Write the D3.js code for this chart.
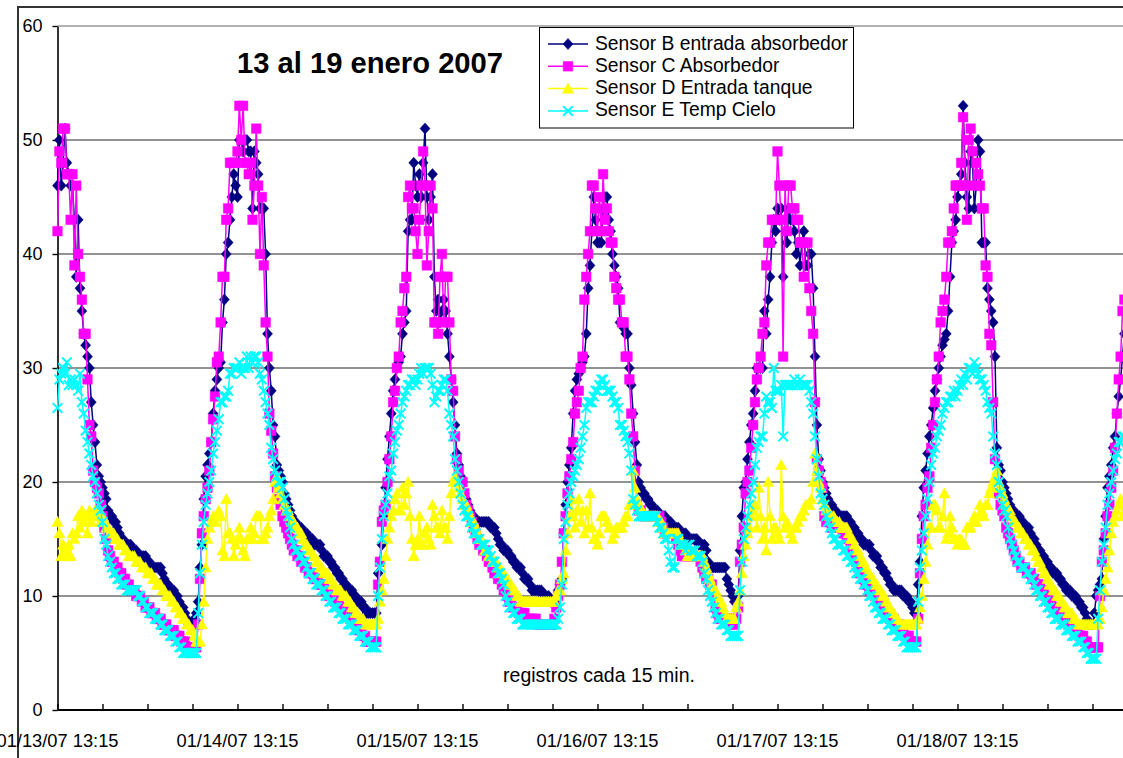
<!DOCTYPE html>
<html><head><meta charset="utf-8">
<script src="https://cdn.jsdelivr.net/npm/d3@7"></script>
<style>body{margin:0;background:#fff;} svg{display:block;} text{font-family:"Liberation Sans",Arial,Helvetica,sans-serif;}</style>
</head><body><svg id="c" width="1123" height="758"></svg>
<script>
// ---- data (registros cada 15 min, desde 01/13/07 13:15) ----
const sensorB = [46,50,46,48,51,48,47,46,46,43,
38,43,37,35,33,32,31,30,27,25,
23.5,21.5,20.5,20,19.5,19,18.5,17.5,17,17,
16.5,16.5,16,15.5,15,15,14.5,14.5,14.5,14.5,
14,14,14,13.5,13.5,13.5,13.5,13.5,13,13,
12.5,12.5,12.5,12.5,12.5,12.5,12,11.5,11,11,
10.5,10.5,10.5,10,10,9.5,9,9,8.5,8,
7.5,7.5,7.5,8,8.5,9.5,12.5,14.5,18.5,20.5,
21.5,22.5,23.5,26,28,29,30,30.5,34,36,
40,41,43,45,47,46,45,50,50,49,
50,50,49,49,44,49,48,47,44,44,
44,40,33,30,28,25,24,21.5,21,20.5,
20,19,18.5,18,17.5,17,16.5,16.5,16,16,
16,15.5,15.5,15.5,15,15,15,14.5,14.5,14.5,
14.5,14,13.5,13.5,13.5,13,13,12.5,12.5,12,
12,11.5,11.5,11,11,10.5,10.5,10.5,10,10,
9.5,9.5,9.5,9,9,8.5,8.5,8.5,8.5,8.5,
8.5,12,13,14.5,17,19.5,22,24,26,28,
29,30,30.5,31,33,34,35,42,43,43,
48,46,45,47,45,48,51,45,43,45,
47,38,35,36,34,35,36,35,33,31,
29,27,25,22.5,21.5,20.5,20,19,18.5,18,
17.5,17,17,16.5,16.5,16.5,16.5,16.5,16.5,16.5,
16.5,16,16,16,15.5,15,14.5,14.5,14,14,
14,13.5,13.5,13,13,12.5,12.5,12.5,12,11.5,
11.5,11.5,11,10.5,10.5,10.5,10.5,10.5,10.5,10,
10,10,10,9.5,9.5,9.5,10,10.5,11,11.5,
15.5,18,20,21.5,23,26,28,29,29.5,30,
30.5,31,33,37,39,42,45,43,41,41,
41,44,45,45,43,42,40,39,38,37,
34,34,33.5,33,33,30,28.5,26,23.5,21.5,
20,19.5,19,19,18.5,18.5,18,18,17.5,17.5,
17.5,17,17,17,17,16.5,16.5,16.5,16,16,
16,16,15.5,15.5,15.5,15.5,15,15,15,15,
15,15,14.5,14.5,14.5,14.5,14,13,12.5,12.5,
12.5,12.5,12.5,12.5,12.5,12.5,12.5,11.5,11,10.5,
10,9.5,9.5,10,14,17,19.5,20,22,23.5,
25,26,28,30,30,30,30,35,33,36,
38,41,43,42,44,43,44,38,42,41,
44,43,43,42,40,41,39,41,42,39,
39,40,40,37,31,25,22,21,20,19.5,
19,18.5,18,18,17.5,17.5,17,17,17,17,
17,17,16.5,16.5,16,16,15.5,15.5,15,15,
14.5,14.5,14.5,14.5,14,13.5,13.5,13.5,13,12.5,
12.5,12,12,11.5,11,11,10.5,10.5,10.5,10.5,
10.5,10,10,10,9.5,9.5,9,8.5,8.5,11,
13,17,19.5,21,22.5,24,25,26.5,28,29,
30,31,32,32.5,33,35,38,41,42,43,
45,46,47,53,48,45,44,49,48,44,
46,50,49,41,41,41,37,36,35,34,
31,23,21.5,21,20,19.5,19,18.5,18,17.5,
17.5,17,17,17,16.5,16.5,16,16,16,15.5,
15,15,14.5,14,14,13.5,13.5,13,13,12.5,
12.5,12,12,12,11.5,11.5,11,11,10.5,10.5,
10.5,10,10,10,9.5,9.5,9,9,8.5,8,
7.5,7.5,7.5,8.5,10,10.5,11,11.5,15,17,
19.5,20.5,21.5,23,24,26,27.5,29,31,33];

const sensorC = [42,49,48,51,51,47,47,43,47,39,
46,40,38,36,33,33,29,25,24,21,
20,19.5,19,18,17,16,15,14,13.5,13,
13,12.5,12.5,12,12,11.5,11.5,11,11,10.5,
10.5,10.5,10,10,10,9.5,9.5,9,9,9,
8.5,8.5,8.5,8,8,8,7.5,7.5,7.5,7,
7,7,7,6.5,6.5,6.5,6,6,6,5.5,
5.5,5.5,5.5,5.5,5.5,7.5,11.5,15.5,17,18.5,
19.5,21,23.5,25.5,27.5,30.5,31,34,38,38,
43,44,48,48,48,48,49,53,50,53,
48,48,47,48,43,46,51,46,40,45,
39,34,31,26,24.5,22.5,20.5,19.5,18.5,18,
17,16.5,16,15.5,15,14.5,14,14,13.5,13.5,
13,13,12.5,12.5,12,12,12,11.5,11.5,11.5,
11,11,11,10.5,10.5,10,10,10,9.5,9.5,
9.5,9,9,9,8.5,8.5,8,8,8,7.5,
7.5,7,7,6.5,6.5,6,6,6,6,6,
6,11,13,16.5,17.5,18,20,22,24,27,
28,30,31,34,35,37,38,45,46,44,
44,42,40,43,46,49,46,39,42,46,
44,34,34,33,38,40,34,38,38,34,
29,28,24,22,21,20,20,19,18,17.5,
17,16.5,16,15.5,15,14.5,14.5,14,14,13.5,
13,13,12.5,12,12,11.5,11.5,11,10.5,10.5,
10,9.5,9.5,9,9,9,8.5,8.5,8.5,8.5,
8,8,8,8,8,8,7.5,7.5,7.5,7.5,
7.5,7.5,7.5,7.5,7.5,8,9,10,11,13,
15.5,17,19,20.5,22,23.5,26,27,28,30,
31,36,38,40,42,46,46,44,42,45,
42,47,43,44,42,41,41,38,37,36,
36,34,34,31,31,29,26,24,21,18,
17.5,17.5,17,17,17,17,17,17,17,17,
17,17,16.5,16,15.5,15.5,15.5,15.5,15.5,15.5,
15,14.5,14,13.5,13.5,13.5,13.5,13.5,13.5,13.5,
13.5,13.5,13.5,13,12.5,12,11.5,11.5,11,11,
10,9,8.5,8,8,8,8,8,8,8,
7.5,7.5,8,9,13,14.5,16,19,20,21,
23,25,27,29,30,31,33,34,39,41,
41,43,43,43,49,46,43,31,46,42,
46,46,44,44,43,43,41,41,38,41,
41,37,35,33,27,22,21,20,19.5,17,
16.5,16.5,16.5,16,16,16,16,16,16,15.5,
15.5,15,15,14.5,14,13.5,13,12.5,12,12,
11.5,11,11,10.5,10.5,10.5,10,10,9.5,9.5,
9,9,8.5,8.5,8,8,8,7.5,7.5,7.5,
7,7,6.5,6.5,6.5,6,6,6,6,8,
12,15,17,18,19.5,20.5,23,25,27,29,
31,34,35,36,38,41,41,42,44,46,
46,46,48,52,46,43,50,51,49,46,
48,47,46,44,44,39,38,33,32,27,
22,20,19,18,17.5,17,16,15.5,15,14.5,
14,13.5,13,13,12.5,12.5,12.5,12,12,12,
11.5,11.5,11,11,11,10.5,10.5,10,10,9.5,
9.5,9,9,9,8.5,8.5,8,8,8,7.5,
7.5,7.5,7,7,7,6.5,6.5,6.5,6,6,
5.5,5.5,5.5,5.5,5.5,5.5,10,13,14,15.5,
17,18,19.5,21,23,26,29,31,35,36];

const sensorD = [16.5,15.5,13.5,14.5,14,13.5,14.5,13.5,15.5,15,
15.5,17,16,17.5,16.5,17,15.5,17.5,16.5,17,
17.5,17,17,16.5,17,16.5,16,16,15.5,15.5,
15.5,15,15,14.5,14.5,14.5,14,14,13.5,13.5,
13.5,13.5,13,13,13,12.5,12.5,12.5,12,12,
12,11.5,11.5,11,11,11,10.5,10.5,10,10,
10,9.5,9.5,9,9,8.5,8.5,8,8,7.5,
7.5,7,7,6.5,6,6,6,7.5,9.5,12.5,
15,16,16.5,17,16.5,17,17.5,17,14,13.5,
18.5,15.5,15.5,15,13.5,14.5,15,16,15,14,
13.5,15,15,16,15,15.5,17,17,17,15,
15,15.5,16,17,17.5,18.5,20,20.5,19.5,19,
18.5,18,17.5,17.5,17,16.5,16.5,16,16,15.5,
15.5,15,14.5,14.5,14,14,13.5,13.5,13,13,
12.5,12.5,12,12,12,11.5,11.5,11,11,10.5,
10.5,10.5,10,10,10,9.5,9.5,9,9,8.5,
8.5,8,8,8,7.5,7.5,7.5,7.5,7.5,7.5,
7.5,8,9.5,10.5,11.5,13.5,15,16,17,17.5,
18.5,19,17.5,17.5,19.5,18,19,20,17,15,
13.5,14.5,15,17,14.5,14.5,15.5,16,15,14.5,
18,17,16,16,15.5,17.5,16,16,15,17,
19,20,20.5,20,19.5,19,18.5,18,18,17.5,
17,16.5,16.5,16,15.5,15,15,14.5,14,14,
13.5,13.5,13,13,13,12.5,12.5,12,12,11.5,
11.5,11,11,10.5,10.5,10,10,9.5,9.5,9.5,
9.5,9.5,9.5,9.5,9.5,9.5,9.5,9.5,9.5,9.5,
9.5,9.5,9.5,9.5,9.5,9.5,10,10.5,10.5,11.5,
12,14,15.5,17,18.5,17,16,17.5,18.5,16.5,
17.5,15.5,17.5,16,19,16,15,15,14.5,15.5,
17,17,17,16.5,16,16,15,15.5,16,16,
16,16,16.5,17,17,18,18,21,19.5,18.5,
18,17.5,17.5,17,17,17,17,17,17,17,
17,16.5,16.5,16,15.5,15.5,15.5,15.5,15.5,15.5,
15.5,15.5,15,14.5,14.5,14,13.5,13.5,13.5,13.5,
13.5,13.5,13.5,13.5,13.5,13,12.5,12,11.5,11,
10.5,10.5,10,9.5,9.5,9,8.5,8,8,8,
8,8,9,9.5,10.5,12,13.5,14.5,15.5,16,
17,17.5,18,16,19.5,17,15,16,14,20,
17,15,16,16,15.5,15,21.5,17,16,16.5,
16,15.5,15,16,16,16.5,17,17,17.5,18,
18,18,18.5,20,22.5,21,20,19.5,18.5,18,
17.5,17.5,17,17,17,16.5,16.5,16.5,16,16,
16,16,15.5,15,15,14.5,14,14,13.5,13,
13,12.5,12,12,11.5,11.5,11,11,10.5,10.5,
10,10,9.5,9,9,8.5,8.5,8,8,7.5,
7.5,7.5,7.5,7.5,7.5,7.5,7.5,7.5,7.5,8,
9,10,11.5,13,14.5,16,16,18,18,17.5,
16,16,17,19,15,15.5,17,16,15,15,
14.5,15,15,14.5,14.5,16,16,16,16.5,17,
16.5,17,18,17.5,17,18,18,19,19.5,20,
20.5,21,20,19.5,19,18.5,18,17.5,17.5,17,
16.5,16.5,16,16,15.5,15.5,15,15,14.5,14.5,
14,14,13.5,13,13,12.5,12,12,11.5,11,
11,10.5,10.5,10,10,9.5,9.5,9,9,8.5,
8.5,8.5,8,8,7.5,7.5,7.5,7.5,7.5,7.5,
7.5,7.5,7.5,7.5,7.5,7.5,8,9,10.5,11.5,
12.5,14,15.5,16.5,17,17.5,18,18.5,17,18];

const sensorE = [26.5,29,29.5,30,29.5,30.5,28.5,29,28.5,29,
28.5,28,29.5,27,26,24.5,23.5,22.5,21.5,20.5,
20,19,18,17.5,16.5,15,14.5,13.5,13,12.5,
12,12,11.5,11.5,11,11,11,10.5,10.5,10.5,
10.5,10.5,10.5,10,10,9.5,9.5,9,9,8.5,
8.5,8.5,8,8,8,7.5,7.5,7,7,7,
6.5,6.5,6.5,6,6,5.5,5.5,5,5,5,
5,5,5,5,5,8.5,12,14.5,16.5,18,
19,20,21,22.5,23.5,24.5,25.5,27,27,27.5,
27.5,28,29.5,29.5,30,30,30,30.5,29.5,30,
30,31,30,31,30.5,31,31,30.5,29.5,29,
28,27,26,25,23,22,21,20.5,20,20,
19.5,18.5,17.5,17,16,15,14.5,14,14,13.5,
13.5,13,13,12.5,12,12,11.5,11.5,11,11,
11,10.5,10.5,10,10,9.5,9.5,9,9,9,
8.5,8.5,8,8,8,7.5,7.5,7.5,7,7,
7,6.5,6.5,6.5,6,6,6,5.5,5.5,5.5,
5.5,10,12.5,15,17,18,19,20.5,21,22.5,
23.5,24.5,25,26,27,27.5,28,28.5,28.5,29,
29,28.5,29,29.5,30,29.5,30,30,30,29.5,
28.5,27,27.5,28,28,28.5,29,29,28,26,
25,24,22,21,20,19,18,17.5,17,17,
16.5,16,15.5,15.5,15,15,14.5,14.5,14.5,14,
14,13.5,13,13,12.5,12,12,11.5,11,10,
9.5,9,9,8.5,8.5,8,8,8,7.5,7.5,
7.5,7.5,7.5,7.5,7.5,7.5,7.5,7.5,7.5,7.5,
7.5,7.5,7.5,7.5,7.5,7.5,7.5,8,9,11,
15,16.5,18,19,20,20.5,21,21.5,22,23,
24,25,26.5,27,27,27,27.5,28,28,28.5,
29,29,28.5,28,28,28,27.5,27,27,26.5,
25,25,24.5,24,23.5,22.5,21,18.5,18,17.5,
17,17,17,17,17,17,17,17,17,17,
16.5,16,16,15.5,15,15,14,13,12.5,12.5,
15,15,14.5,14.5,14.5,14,14.5,14.5,14,14,
14,13.5,13.5,13.5,13,12,11.5,10.5,10,9.5,
9,8.5,8,8,7.5,7.5,7.5,7,7,6.5,
6.5,6.5,6.5,6.5,10.5,13,15,16,17,18,
19,20,21.5,23,23.5,24,24,26,27.5,27,
27,26.5,30,28,28,28,28.5,24,28.5,28.5,
28.5,28.5,28.5,29,28.5,28.5,29,28.5,28.5,28.5,
28.5,28,27,26,24,22,20.5,19,18.5,18,
17,16.5,16,15.5,15,15,14.5,14.5,14.5,14,
14,13.5,13.5,13,13,12.5,12,12,11.5,11.5,
11,11,10.5,10,10,9.5,9,9,8.5,8.5,
8,8,8,7.5,7.5,7,7,7,6.5,6.5,
6.5,6,6,5.5,5.5,5.5,5.5,5.5,5.5,9.5,
12.5,14,15.5,17,18.5,20,21.5,22.5,23,24,
24.5,25,26,26.5,27,27,27.5,27.5,28,27.5,
28,28.5,29,28.5,29.5,29,30,30,29.5,30.5,
30,29.5,29,29,28.5,28,27,26.5,26,24,
22.5,21.5,20,19,18,17.5,17,16,15,14.5,
14,13.5,13,13,12.5,12.5,12.5,12,12,11.5,
11.5,11,10.5,10.5,10,10,9.5,9.5,9,9,
8.5,8.5,8,8,8,7.5,7.5,7.5,7,7,
7,6.5,6.5,6.5,6,6,6,5.5,5.5,5,
5,4.5,4.5,4.5,4.5,8,10.5,13,14.5,16,
18,19,20,21,22,22.5,23.5,23.5,24,24];

const seriesNames  = ["Sensor B entrada absorbedor","Sensor C Absorbedor","Sensor D Entrada tanque","Sensor E Temp Cielo"];
const seriesColors = ["#000080","#FF00FF","#FFFF00","#00FFFF"];
const seriesShapes = ["diamond","square","triangle","cross"];
const yTicks = [0,10,20,30,40,50,60];
const xTickLabels = ["01/13/07 13:15","01/14/07 13:15","01/15/07 13:15","01/16/07 13:15","01/17/07 13:15","01/18/07 13:15"];
const recordsPerDay = 96;        // 15-min records
const recordsPerMinorTick = 24;  // 6 h
const titleText = "13 al 19 enero 2007";
const noteText = "registros cada 15 min.";

const allSeries = [sensorB, sensorC, sensorD, sensorE];

// ---- drawing ----
const W = 1123, H = 758;
const svg = d3.select("#c");
svg.append("rect").attr("width", W).attr("height", H).attr("fill", "#fff");

const x = d3.scaleLinear().domain([0, recordsPerDay]).range([57.5, 237.5]);
const y = d3.scaleLinear().domain([0, 60]).range([710, 26]);

// chart frame
svg.append("path").attr("d", `M18,${H}V7H${W}`).attr("fill", "none")
  .attr("stroke", "#333").attr("stroke-width", 2);

// gridlines
svg.append("g").selectAll("line").data(yTicks.filter(d => d > 0)).join("line")
  .attr("x1", x(0)).attr("x2", W).attr("y1", d => y(d)).attr("y2", d => y(d))
  .attr("stroke", d => d === 60 ? "#999" : "#6e6e6e").attr("stroke-width", 1.4);

// y axis
const yAxis = d3.axisLeft(y).tickValues(yTicks).tickSize(5).tickSizeOuter(0).tickPadding(10);
svg.append("g").attr("transform", `translate(${x(0)},0)`).call(yAxis)
  .call(g => g.select(".domain").attr("stroke", "#000").attr("stroke-width", 1.6))
  .call(g => g.selectAll(".tick line").attr("stroke", "#000").attr("stroke-width", 1.4))
  .call(g => g.selectAll("text").attr("font-size", 18).attr("fill", "#000")
      .attr("font-family", '"Liberation Sans", Arial, sans-serif'));

// x axis
const nRec = sensorB.length;
const minorTicks = d3.range(0, nRec + recordsPerMinorTick, recordsPerMinorTick);
const xAxis = d3.axisBottom(x).tickValues(minorTicks).tickSize(-6).tickSizeOuter(0).tickFormat("");
const gx = svg.append("g").attr("transform", "translate(0,710)").call(xAxis);
gx.select(".domain").remove();
gx.selectAll(".tick line").attr("stroke", "#000").attr("stroke-width", 1.4);
gx.append("line").attr("x1", x(0)).attr("x2", W).attr("y1", 0).attr("y2", 0)
  .attr("stroke", "#000").attr("stroke-width", 2);
svg.append("g").selectAll("text").data(xTickLabels).join("text")
  .attr("x", (d, i) => x(i * recordsPerDay)).attr("y", 747)
  .attr("text-anchor", "middle").attr("font-size", 18.3).attr("fill", "#000")
  .text(d => d);

// symbol paths (Excel-like marker sizes)
function symbolPath(shape) {
  switch (shape) {
    case "diamond": return "M0,-5.6L5,0L0,5.6L-5,0Z";
    case "square": return "M-4.8,-4.8H4.8V4.8H-4.8Z";
    case "triangle": return "M0,-5.6L5.6,4.6H-5.6Z";
    default: return "M-4.8,-4.8L4.8,4.8M4.8,-4.8L-4.8,4.8";
  }
}

const line = d3.line().x((d, i) => x(i)).y(d => y(d));
const plot = svg.append("g");
allSeries.forEach((vals, s) => {
  const g = plot.append("g");
  g.append("path").datum(vals).attr("d", line).attr("fill", "none")
    .attr("stroke", seriesColors[s]).attr("stroke-width", 1.5);
  const cross = seriesShapes[s] === "cross";
  g.selectAll("path.m").data(vals).join("path").attr("class", "m")
    .attr("transform", (d, i) => `translate(${x(i)},${y(d)})`)
    .attr("d", symbolPath(seriesShapes[s]))
    .attr("fill", cross ? "none" : seriesColors[s])
    .attr("stroke", seriesColors[s]).attr("stroke-width", cross ? 2 : 0.5);
});

// title
svg.append("text").attr("x", 370).attr("y", 73).attr("text-anchor", "middle")
  .attr("font-size", 29.2).attr("font-weight", "bold").attr("fill", "#000").text(titleText);

// note
svg.append("text").attr("x", 599).attr("y", 682).attr("text-anchor", "middle")
  .attr("font-size", 19.5).attr("fill", "#000").text(noteText);

// legend
const lg = svg.append("g");
lg.append("rect").attr("x", 539.5).attr("y", 27.5).attr("width", 314).attr("height", 100.5)
  .attr("fill", "#fff").attr("stroke", "#000").attr("stroke-width", 1);
seriesNames.forEach((name, s) => {
  const cy = 44 + s * 22.3;
  lg.append("line").attr("x1", 548).attr("x2", 588).attr("y1", cy).attr("y2", cy)
    .attr("stroke", seriesColors[s]).attr("stroke-width", 1.5);
  const cross = seriesShapes[s] === "cross";
  lg.append("path").attr("transform", `translate(568,${cy})`).attr("d", symbolPath(seriesShapes[s]))
    .attr("fill", cross ? "none" : seriesColors[s]).attr("stroke", seriesColors[s])
    .attr("stroke-width", cross ? 2 : 0.5);
  lg.append("text").attr("x", 595).attr("y", cy + 5.5).attr("font-size", 19.3)
    .attr("fill", "#000").text(name);
});
</script></body></html>
